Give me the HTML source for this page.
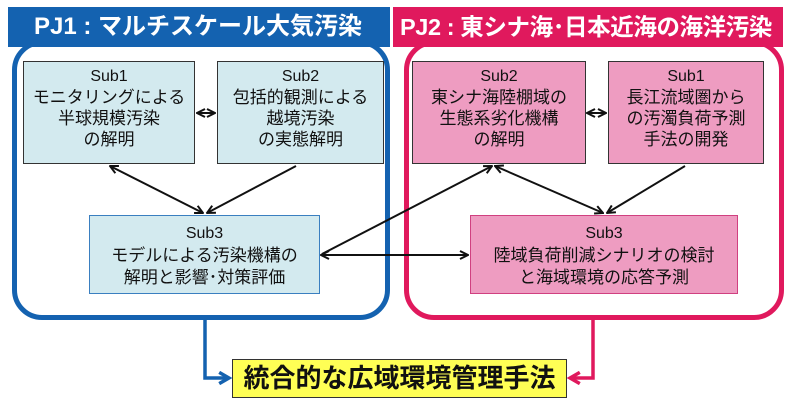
<!DOCTYPE html>
<html><head><meta charset="utf-8"><style>
body{margin:0;width:800px;height:404px;background:#fff;overflow:hidden;position:relative;font-family:"Liberation Sans","Noto Sans CJK JP",sans-serif}
.a{position:absolute;box-sizing:border-box}
.hd{color:#fff;font-weight:bold;font-size:24px;line-height:40px;white-space:nowrap;overflow:hidden}
.bx{text-align:center;font-size:17px;line-height:21px;color:#111;padding-top:4px}
.bx .s{font-size:16px}
</style></head><body>
<div class="a" style="left:12px;top:40px;width:378px;height:280px;border:5px solid #1462b0;border-radius:30px"></div>
<div class="a" style="left:404px;top:40px;width:380px;height:280px;border:5px solid #e0195d;border-radius:30px"></div>
<div class="a hd" style="left:8px;top:7px;width:382px;height:40px;background:#1462b0;padding-left:26px">PJ1 : マルチスケール大気汚染</div>
<div class="a hd" style="left:393px;top:7px;width:390px;height:40px;background:#e0195d;padding-left:7px;font-size:23.5px;letter-spacing:-0.4px">PJ2 : 東シナ海･日本近海の海洋汚染</div>

<div class="a bx" style="left:23px;top:61px;width:172px;height:103px;background:#d3eaef;border:1.5px solid #333"><div class="s">Sub1</div>モニタリングによる<br>半球規模汚染<br>の解明</div>
<div class="a bx" style="left:217px;top:61px;width:167px;height:103px;background:#d3eaef;border:1.5px solid #333"><div class="s">Sub2</div>包括的観測による<br>越境汚染<br>の実態解明</div>
<div class="a bx" style="left:412px;top:61px;width:174px;height:103px;background:#ee9cc1;border:1.5px solid #333"><div class="s">Sub2</div>東シナ海陸棚域の<br>生態系劣化機構<br>の解明</div>
<div class="a bx" style="left:608px;top:61px;width:156px;height:103px;background:#ee9cc1;border:1.5px solid #333"><div class="s">Sub1</div>長江流域圏から<br>の汚濁負荷予測<br>手法の開発</div>
<div class="a bx" style="left:89px;top:215px;width:231px;height:79px;background:#d3eaef;border:1.5px solid #3a7fc0;padding-top:7px;line-height:22px"><div class="s">Sub3</div>モデルによる汚染機構の<br>解明と影響･対策評価</div>
<div class="a bx" style="left:470px;top:215px;width:268px;height:79px;background:#ee9cc1;border:1.5px solid #d04080;padding-top:7px;line-height:22px"><div class="s">Sub3</div>陸域負荷削減シナリオの検討<br>と海域環境の応答予測</div>
<div class="a" style="left:232px;top:359px;width:335px;height:39px;background:#ffff55;border:1.5px solid #333;text-align:center;font-size:26px;font-weight:bold;line-height:36px;color:#111">統合的な広域環境管理手法</div>

<svg class="a" style="left:0;top:0" width="800" height="404">
<defs>
<marker id="k" viewBox="0 0 10 10" refX="9" refY="5" markerWidth="5" markerHeight="5" orient="auto-start-reverse"><path d="M1 1L9 5L1 9" fill="none" stroke="#111" stroke-width="2"/></marker>
<marker id="b" viewBox="0 0 10 10" refX="8" refY="5" markerWidth="4" markerHeight="4" orient="auto"><path d="M1 1L8 5L1 9" fill="none" stroke="#1462b0" stroke-width="2.5"/></marker>
<marker id="p" viewBox="0 0 10 10" refX="8" refY="5" markerWidth="4" markerHeight="4" orient="auto"><path d="M1 1L8 5L1 9" fill="none" stroke="#e0195d" stroke-width="2.5"/></marker>
</defs>
<g stroke="#111" stroke-width="2" fill="none">
<line x1="197" y1="113" x2="215" y2="113" marker-start="url(#k)" marker-end="url(#k)"/>
<line x1="587" y1="113" x2="606" y2="113" marker-start="url(#k)" marker-end="url(#k)"/>
<line x1="110" y1="166" x2="203" y2="213" marker-start="url(#k)" marker-end="url(#k)"/>
<line x1="296" y1="166" x2="207" y2="213" marker-end="url(#k)"/>
<line x1="495" y1="166" x2="603" y2="213" marker-start="url(#k)" marker-end="url(#k)"/>
<line x1="685" y1="166" x2="607" y2="213" marker-end="url(#k)"/>
<line x1="321" y1="255" x2="468" y2="255" marker-start="url(#k)" marker-end="url(#k)"/>
<line x1="322" y1="254" x2="492" y2="166" marker-end="url(#k)"/>
</g>
<path d="M205 320V378H229" fill="none" stroke="#1462b0" stroke-width="3.5" marker-end="url(#b)"/>
<path d="M593 320V378H570" fill="none" stroke="#e0195d" stroke-width="3.5" marker-end="url(#p)"/>
</svg>
</body></html>
